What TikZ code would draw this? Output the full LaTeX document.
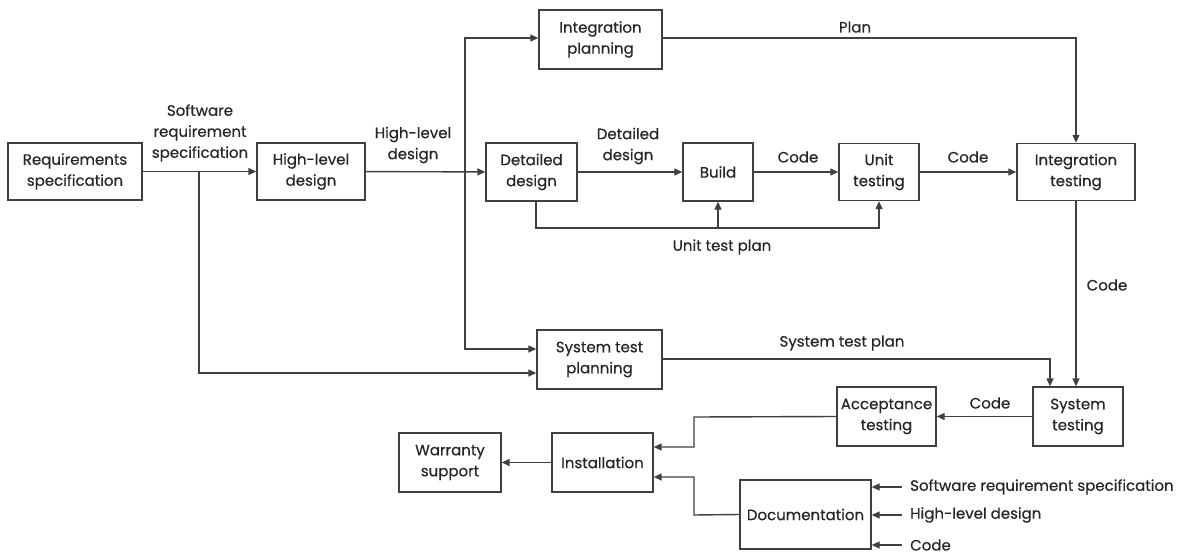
\documentclass[tikz,border=0pt]{standalone}
\usepackage{fontspec}
\setmainfont{Poppins}[FakeBold=0.5]
\usetikzlibrary{arrows.meta}
\begin{document}
\begin{tikzpicture}[x=1pt,y=-1pt,
  font=\fontsize{15}{21}\selectfont,
  box/.style={draw=black!75, line width=1.4pt, rectangle, align=center, inner sep=0pt, text=black!85},
  conn/.style={draw=black!75, line width=1.4pt},
  arr/.style={conn, -{Triangle[length=8pt,width=7pt]}},
  lbl/.style={align=center, inner sep=0pt, text=black!85}]
\useasboundingbox (0,0) rectangle (1183,554);
% boxes
\node[box, minimum width=134pt, minimum height=57pt] (req) at (75,171.5) {Requirements\\specification};
\node[box, minimum width=108pt, minimum height=57pt] (hld) at (311,171.5) {High-level\\design};
\node[box, minimum width=123pt, minimum height=59pt] (ip) at (600.5,39.5) {Integration\\planning};
\node[box, minimum width=91pt, minimum height=58pt] (dd) at (531.5,172) {Detailed\\design};
\node[box, minimum width=70pt, minimum height=58pt] (bld) at (718,172) {Build};
\node[box, minimum width=80pt, minimum height=57pt] (ut) at (879,172) {Unit\\testing};
\node[box, minimum width=118pt, minimum height=57pt] (it) at (1076,172) {Integration\\testing};
\node[box, minimum width=125pt, minimum height=59pt] (stp) at (599.5,359.5) {System test\\planning};
\node[box, minimum width=90pt, minimum height=59pt] (st) at (1078,416.5) {System\\testing};
\node[box, minimum width=99pt, minimum height=59pt] (at) at (886.5,416.5) {Acceptance\\testing};
\node[box, minimum width=101pt, minimum height=59pt] (inst) at (602.5,462.5) {Installation};
\node[box, minimum width=102pt, minimum height=59pt] (ws) at (450,462.5) {Warranty\\support};
\node[box, minimum width=131pt, minimum height=69pt] (doc) at (805.5,514.5) {Documentation};
% coordinates
\coordinate (b1) at (199,172);
\coordinate (v) at (465,172);
\coordinate (utp) at (536,228);
\coordinate (stpj) at (1050,359);
\coordinate (ja) at (694,417);
\coordinate (jd) at (694,515);
\coordinate (in1) at (902,487);
\coordinate (in2) at (902,515);
\coordinate (in3) at (902,545);
% connectors
\draw[arr] (req) -- (hld);
\draw[arr] (b1) |- (stp.west |- 0,373);
\draw[arr] (hld) -- (dd);
\draw[arr] (v) |- (ip.west |- 0,38);
\draw[arr] (v) |- (stp.west |- 0,349);
\draw[arr] (dd) -- (bld);
\draw[arr] (bld) -- (ut);
\draw[arr] (ut) -- (it);
\draw[arr] (utp |- dd.south) -- (utp) -| (ut.south);
\draw[arr] (bld.south |- utp) -- (bld.south);
\draw[arr] (ip.east |- 0,38) -| (it.north);
\draw[arr] (it.south) -- (it.south |- st.north);
\draw[arr] (stp.east |- stpj) -| (stpj |- st.north);
\draw[arr] (st) -- (at);
\draw[arr] (at.west) -- (ja) |- (inst.east |- 0,447);
\draw[arr] (doc.west) -- (jd) |- (inst.east |- 0,477);
\draw[arr] (inst) -- (ws);
\draw[arr] (in1) -- (doc.east |- in1);
\draw[arr] (in2) -- (doc.east |- in2);
\draw[arr] (in3) -- (doc.east |- in3);
% labels
\node[lbl] (l1) at (200,133) {Software\\requirement\\specification};
\node[lbl] (l2) at (413,145) {High-level\\design};
\node[lbl] (l3) at (628,146) {Detailed\\design};
\node[lbl] (l4) at (798,157) {Code};
\node[lbl] (l5) at (968,157) {Code};
\node[lbl] (l6) at (722,247) {Unit test plan};
\node[lbl] (l7) at (855,27) {Plan};
\node[lbl] (l8) at (1107,285) {Code};
\node[lbl] (l9) at (842,343) {System test plan};
\node[lbl] (l10) at (990,403) {Code};
\node[lbl, anchor=west] (t1) at (910,487) {Software requirement specification};
\node[lbl, anchor=west] (t2) at (910,515) {High-level design};
\node[lbl, anchor=west] (t3) at (910,545) {Code};
\end{tikzpicture}
\end{document}
